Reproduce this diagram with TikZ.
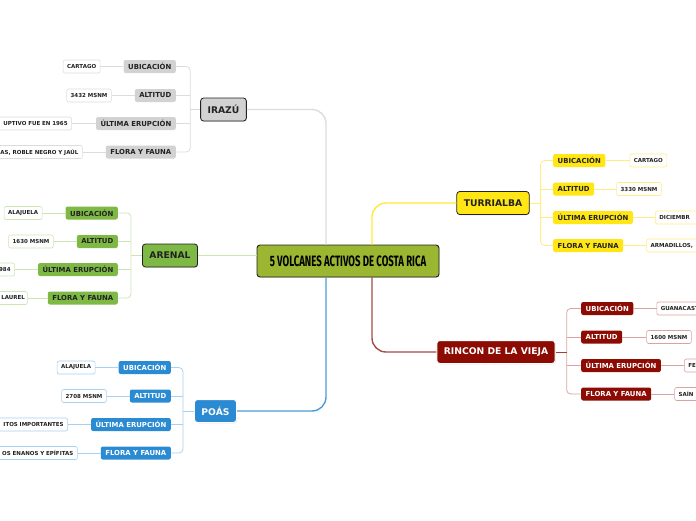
\documentclass[tikz,border=0pt]{standalone}
\usepackage{fontspec}
\setmainfont{DejaVu Sans}
\newfontfamily\titlefont[FakeStretch=0.64]{Fira Sans}
\usetikzlibrary{positioning,shadows}

\definecolor{olivec}{HTML}{9BB630}
\definecolor{grayc}{HTML}{D2D2D2}
\definecolor{grayln}{HTML}{DCDCDC}
\definecolor{greenc}{HTML}{7DB944}
\definecolor{greenln}{HTML}{CDE5B2}
\definecolor{bluec}{HTML}{2A8AD2}
\definecolor{blueln}{HTML}{A8D0F0}
\definecolor{yellowc}{HTML}{FFE614}
\definecolor{yellowln}{HTML}{FFEC85}
\definecolor{redc}{HTML}{8C0C04}
\definecolor{redln}{HTML}{D8A4A1}
\definecolor{inkc}{HTML}{222222}

\begin{document}
\begin{tikzpicture}[x=1pt, y=-1pt,
  central/.style={draw=inkc, line width=0.9pt, fill=olivec, rounded corners=3pt,
                  minimum width=182pt, minimum height=32pt, text=black,
                  font=\titlefont\bfseries\fontsize{15}{16}\selectfont,
                  drop shadow={shadow xshift=0.6pt, shadow yshift=-0.8pt, opacity=0.25}},
  topic/.style={rounded corners=3pt, minimum height=23pt, inner xsep=7pt, inner ysep=0pt,
                font=\bfseries\fontsize{9.2}{10}\selectfont,
                drop shadow={shadow xshift=0.6pt, shadow yshift=-0.8pt, opacity=0.25}},
  sub/.style={rounded corners=2pt, minimum height=13pt, inner xsep=4.5pt, inner ysep=0pt,
              font=\bfseries\fontsize{6.9}{7.5}\selectfont},
  leaf/.style={draw, line width=0.6pt, fill=white, rounded corners=2pt, minimum height=13pt,
               inner xsep=4pt, inner ysep=0pt, text=inkc,
               font=\bfseries\fontsize{5.5}{6.2}\selectfont},
  cutleft/.style={text width=#1, align=right},
  cutright/.style={text width=#1, align=left},
  conn/.style={line width=1.4pt, rounded corners=14pt},
  brk/.style={line width=0.8pt, rounded corners=4pt},
]
\useasboundingbox (0,0) rectangle (696,520);
\clip (0,0) rectangle (696,520);

% --- Central topic ---
\node[central] (central) at (348,261) {5 VOLCANES ACTIVOS DE COSTA RICA};

% --- Main volcanoes ---
\node[topic, draw=inkc, line width=0.8pt, fill=grayc, text=inkc] (irazu) at (223.5,109.5) {IRAZÚ};
\node[topic, draw=inkc, line width=0.8pt, fill=greenc, text=inkc] (arenal) at (170,255.5) {ARENAL};
\node[topic, draw=white, line width=1pt, fill=bluec, text=white] (poas) at (215.5,411) {POÁS};
\node[topic, draw=inkc, line width=0.8pt, fill=yellowc, text=inkc] (turri) at (493,203) {TURRIALBA};
\node[topic, draw=white, line width=1pt, fill=redc, text=white] (rincon) at (496,352) {RINCON DE LA VIEJA};

% --- Irazu ---
\node[sub, fill=grayc, text=inkc, anchor=east] (irub) at (176,66.5) {UBICACIÓN};
\node[sub, fill=grayc, text=inkc, anchor=east] (iral) at (176,95.5) {ALTITUD};
\node[sub, fill=grayc, text=inkc, anchor=east] (irul) at (176,123.5) {ÚLTIMA ERUPCIÓN};
\node[sub, fill=grayc, text=inkc, anchor=east] (irff) at (176,152) {FLORA Y FAUNA};
\node[leaf, draw=grayln, left=23pt of irub] (irubl) {CARTAGO};
\node[leaf, draw=grayln, left=23pt of iral] (iraltl) {3432 MSNM};
\node[leaf, draw=grayln, left=24pt of irul, cutleft=80pt] (irull) {UPTIVO FUE EN 1965};
\node[leaf, draw=grayln, left=23pt of irff, cutleft=92pt] (irffl) {AS, ROBLE NEGRO Y JAÚL};

% --- Arenal ---
\node[sub, fill=greenc, text=inkc, anchor=east] (arub) at (118,213) {UBICACIÓN};
\node[sub, fill=greenc, text=inkc, anchor=east] (aral) at (118,241.5) {ALTITUD};
\node[sub, fill=greenc, text=inkc, anchor=east] (arul) at (118,269.5) {ÚLTIMA ERUPCIÓN};
\node[sub, fill=greenc, text=inkc, anchor=east] (arff) at (118,298) {FLORA Y FAUNA};
\node[leaf, draw=greenln, left=23pt of arub] (arubl) {ALAJUELA};
\node[leaf, draw=greenln, left=23pt of aral] (araltl) {1630 MSNM};
\node[leaf, draw=greenln, left=23pt of arul, cutleft=20pt] (arull) {984};
\node[leaf, draw=greenln, left=20pt of arff, inner xsep=2.5pt] (arffl) {LAUREL};

% --- Poas ---
\node[sub, fill=bluec, text=white, anchor=east] (poub) at (171,367.5) {UBICACIÓN};
\node[sub, fill=bluec, text=white, anchor=east] (poal) at (171,396) {ALTITUD};
\node[sub, fill=bluec, text=white, anchor=east] (poul) at (171,424.5) {ÚLTIMA ERUPCIÓN};
\node[sub, fill=bluec, text=white, anchor=east] (poff) at (171,453) {FLORA Y FAUNA};
\node[leaf, draw=blueln, left=23pt of poub] (poubl) {ALAJUELA};
\node[leaf, draw=blueln, left=23pt of poal] (poaltl) {2708 MSNM};
\node[leaf, draw=blueln, left=23pt of poul, cutleft=74pt] (poull) {ITOS IMPORTANTES};
\node[leaf, draw=blueln, left=23pt of poff, cutleft=86pt] (poffl) {OS ENANOS Y EPÍFITAS};

% --- Turrialba ---
\node[sub, fill=yellowc, text=inkc, anchor=west] (trub) at (553,160.5) {UBICACIÓN};
\node[sub, fill=yellowc, text=inkc, anchor=west] (tral) at (553,189) {ALTITUD};
\node[sub, fill=yellowc, text=inkc, anchor=west] (trul) at (553,217.5) {ÚLTIMA ERUPCIÓN};
\node[sub, fill=yellowc, text=inkc, anchor=west] (trff) at (553,245.5) {FLORA Y FAUNA};
\node[leaf, draw=yellowln, right=24pt of trub] (trubl) {CARTAGO};
\node[leaf, draw=yellowln, right=22pt of tral] (traltl) {3330 MSNM};
\node[leaf, draw=yellowln, right=22pt of trul, cutright=50pt] (trull) {DICIEMBR};
\node[leaf, draw=yellowln, right=23pt of trff, cutright=60pt] (trffl) {ARMADILLOS,};

% --- Rincon de la Vieja ---
\node[sub, fill=redc, text=white, anchor=west] (riub) at (581,308.5) {UBICACIÓN};
\node[sub, fill=redc, text=white, anchor=west] (rial) at (581,337) {ALTITUD};
\node[sub, fill=redc, text=white, anchor=west] (riul) at (581,365.5) {ÚLTIMA ERUPCIÓN};
\node[sub, fill=redc, text=white, anchor=west] (riff) at (581,394) {FLORA Y FAUNA};
\node[leaf, draw=redln, right=23pt of riub, cutright=50pt] (riubl) {GUANACASTE};
\node[leaf, draw=redln, right=24pt of rial] (rialtl) {1600 MSNM};
\node[leaf, draw=redln, right=23pt of riul, cutright=20pt] (riull) {FE};
\node[leaf, draw=redln, right=23pt of riff, cutright=30pt] (riffl) {SAÍN};

% --- Main connectors ---
\draw[conn, grayln] ([xshift=-22pt]central.north) |- (irazu.east);
\draw[conn, yellowc!85!white] ([xshift=24pt]central.north) |- (turri.west);
\draw[conn, bluec!85!white] ([xshift=-22pt]central.south) |- (poas.east);
\draw[conn, redc!75!white] ([xshift=24pt]central.south) |- (rincon.west);
\draw[line width=1pt, greenln] (arenal.east) -- (arenal.east -| central.west);

% --- Brackets ---
\coordinate (irj) at ([xshift=-10pt]irazu.west);
\draw[brk, grayln] (irub.east) -| (irj) |- (irff.east);
\draw[brk, grayln] (irj) -- (irazu.west);
\draw[brk, grayln] (iral.east) -- (iral.east -| irj);
\draw[brk, grayln] (irul.east) -- (irul.east -| irj);

\coordinate (arj) at ([xshift=-11pt]arenal.west);
\draw[brk, greenln] (arub.east) -| (arj) |- (arff.east);
\draw[brk, greenln] (arj) -- (arenal.west);
\draw[brk, greenln] (aral.east) -- (aral.east -| arj);
\draw[brk, greenln] (arul.east) -- (arul.east -| arj);

\coordinate (poj) at ([xshift=-11pt]poas.west);
\draw[brk, blueln] (poub.east) -| (poj) |- (poff.east);
\draw[brk, blueln] (poj) -- (poas.west);
\draw[brk, blueln] (poal.east) -- (poal.east -| poj);
\draw[brk, blueln] (poul.east) -- (poul.east -| poj);

\coordinate (trj) at ([xshift=11pt]turri.east);
\draw[brk, yellowln] (trub.west) -| (trj) |- (trff.west);
\draw[brk, yellowln] (trj) -- (turri.east);
\draw[brk, yellowln] (tral.west) -- (tral.west -| trj);
\draw[brk, yellowln] (trul.west) -- (trul.west -| trj);

\coordinate (rij) at ([xshift=11pt]rincon.east);
\draw[brk, redln] (riub.west) -| (rij) |- (riff.west);
\draw[brk, redc!80!white] (rij) -- (rincon.east);
\draw[brk, redln] (rial.west) -- (rial.west -| rij);
\draw[brk, redln] (riul.west) -- (riul.west -| rij);

% --- Leaf connectors ---
\draw[brk, grayln] (irub) -- (irubl);
\draw[brk, grayln] (iral) -- (iraltl);
\draw[brk, grayln] (irul) -- (irull);
\draw[brk, grayln] (irff) -- (irffl);
\draw[brk, greenln] (arub) -- (arubl);
\draw[brk, greenln] (aral) -- (araltl);
\draw[brk, greenln] (arul) -- (arull);
\draw[brk, greenln] (arff) -- (arffl);
\draw[brk, blueln] (poub) -- (poubl);
\draw[brk, blueln] (poal) -- (poaltl);
\draw[brk, blueln] (poul) -- (poull);
\draw[brk, blueln] (poff) -- (poffl);
\draw[brk, yellowln] (trub) -- (trubl);
\draw[brk, yellowln] (tral) -- (traltl);
\draw[brk, yellowln] (trul) -- (trull);
\draw[brk, yellowln] (trff) -- (trffl);
\draw[brk, redln] (riub) -- (riubl);
\draw[brk, redln] (rial) -- (rialtl);
\draw[brk, redln] (riul) -- (riull);
\draw[brk, redln] (riff) -- (riffl);
\end{tikzpicture}
\end{document}
